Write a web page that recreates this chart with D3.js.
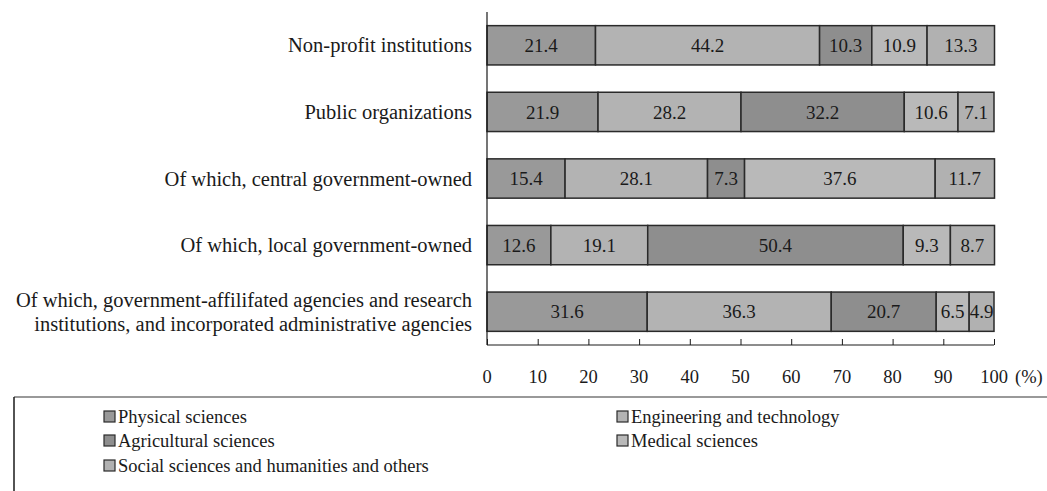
<!DOCTYPE html>
<html>
<head>
<meta charset="utf-8">
<script src="https://cdn.jsdelivr.net/npm/d3@7"></script>
<style>
	body { margin: 0; background: #fff; }
</style>
</head>
<body>
<div id="chart"></div>
<script>
// chart data
var categories = [
	"Non-profit institutions",
	"Public organizations",
	"Of which, central government-owned",
	"Of which, local government-owned",
	"Of which, government-affilifated agencies and research|institutions, and incorporated administrative agencies"
];
var seriesNames = ["Physical sciences", "Engineering and technology", "Agricultural sciences", "Medical sciences", "Social sciences and humanities and others"];
var physical = [21.4, 21.9, 15.4, 12.6, 31.6];
var engineering = [44.2, 28.2, 28.1, 19.1, 36.3];
var agricultural = [10.3, 32.2, 7.3, 50.4, 20.7];
var medical = [10.9, 10.6, 37.6, 9.3, 6.5];
var social = [13.3, 7.1, 11.7, 8.7, 4.9];
var ticks = [0, 10, 20, 30, 40, 50, 60, 70, 80, 90, 100];

var seriesValues = [physical, engineering, agricultural, medical, social];
var colors = ["#999999", "#b3b3b3", "#8e8e8e", "#b9b9b9", "#b1b1b1"];
var font = "'Liberation Serif'";

function drawChart() {
	var width = 1047;
	var height = 491;

	var svg = d3.select("#chart").append("svg")
		.attr("width", width)
		.attr("height", height);

	//scales
	var x = d3.scaleLinear().domain([0, 100]).range([487, 994]);
	var y = d3.scaleBand().domain(categories).range([12, 345]).paddingInner(0.41).paddingOuter(0.205);

	//stack the rows
	var rows = categories.map(function(c, i) {
		var start = 0;
		return seriesValues.map(function(s, k) {
			var seg = { cat: c, k: k, x0: start, x1: start + s[i], v: s[i] };
			start += s[i];
			return seg;
		});
	});

	var rowG = svg.selectAll(".row").data(rows).enter().append("g")
		.attr("class", "row");

	rowG.selectAll("rect").data(function(d) { return d; }).enter().append("rect")
		.attr("x", function(d) { return x(d.x0); })
		.attr("y", function(d) { return y(d.cat); })
		.attr("width", function(d) { return x(d.x1) - x(d.x0); })
		.attr("height", y.bandwidth())
		.style("fill", function(d) { return colors[d.k]; })
		.style("stroke", "#2a2a2a")
		.style("stroke-width", 1.5);

	rowG.selectAll("text").data(function(d) { return d; }).enter().append("text")
		.attr("x", function(d) { return (x(d.x0) + x(d.x1)) / 2; })
		.attr("y", function(d) { return y(d.cat) + y.bandwidth() / 2; })
		.attr("dy", "0.35em")
		.attr("text-anchor", "middle")
		.style("font-family", font)
		.style("font-size", "19px")
		.style("fill", "#1a1a1a")
		.text(function(d) { return d.v.toFixed(1); });

	//category labels, split on |
	var catLabels = svg.selectAll(".cat").data(categories).enter().append("text")
		.attr("class", "cat")
		.attr("text-anchor", "end")
		.style("font-family", font)
		.style("font-size", "20.5px")
		.style("fill", "#1a1a1a")
		.attr("y", function(d) { return y(d) + y.bandwidth() / 2; });

	catLabels.each(function(d) {
		var lines = d.split("|");
		var t = d3.select(this);
		lines.forEach(function(line, j) {
			t.append("tspan")
				.attr("x", 472)
				.attr("dy", j == 0 ? (0.35 - (lines.length - 1) * 0.6) + "em" : "1.2em")
				.text(line);
		});
	});

	//vertical axis line
	svg.append("line")
		.attr("x1", x(0)).attr("x2", x(0))
		.attr("y1", 12).attr("y2", 345)
		.style("stroke", "#1a1a1a")
		.style("stroke-width", 1.2);

	//x axis, ticks pointing up
	var xAxis = d3.axisTop(x).tickValues(ticks).tickSize(6).tickFormat("");
	var axisG = svg.append("g")
		.attr("transform", "translate(0,345)")
		.call(xAxis);
	axisG.select(".domain").attr("d", "M" + x(0) + ",0H" + x(100)).style("stroke", "#1a1a1a");
	axisG.selectAll(".tick line").style("stroke", "#1a1a1a");

	svg.selectAll(".tickLabel").data(ticks).enter().append("text")
		.attr("class", "tickLabel")
		.attr("x", function(d) { return x(d); })
		.attr("y", 377)
		.attr("dy", "0.35em")
		.attr("text-anchor", "middle")
		.style("font-family", font)
		.style("font-size", "18.5px")
		.style("fill", "#1a1a1a")
		.text(function(d) { return d; });

	svg.append("text")
		.attr("x", x(100) + 21)
		.attr("y", 377)
		.attr("dy", "0.35em")
		.style("font-family", font)
		.style("font-size", "18.5px")
		.style("fill", "#1a1a1a")
		.text("(%)");

	//legend box, open to the right and bottom
	svg.append("line")
		.attr("x1", 14).attr("x2", width)
		.attr("y1", 397).attr("y2", 397)
		.style("stroke", "#777")
		.style("stroke-width", 1.5);
	svg.append("line")
		.attr("x1", 14).attr("x2", 14)
		.attr("y1", 397).attr("y2", height)
		.style("stroke", "#1a1a1a")
		.style("stroke-width", 1.5);

	var legendPos = [[104, 417], [617, 417], [104, 441], [617, 441], [104, 466]];
	var legend = svg.selectAll(".legend").data(seriesNames).enter().append("g")
		.attr("class", "legend")
		.attr("transform", function(d, i) { return "translate(" + legendPos[i][0] + "," + legendPos[i][1] + ")"; });

	legend.append("rect")
		.attr("x", 0)
		.attr("y", -6)
		.attr("width", 11)
		.attr("height", 11)
		.style("fill", function(d, i) { return colors[i]; })
		.style("stroke", "#2a2a2a")
		.style("stroke-width", 1.2);

	legend.append("text")
		.attr("x", 14)
		.attr("dy", "0.35em")
		.style("font-family", font)
		.style("font-size", "18.5px")
		.style("fill", "#1a1a1a")
		.text(function(d) { return d; });
}

drawChart();
</script>
</body>
</html>
